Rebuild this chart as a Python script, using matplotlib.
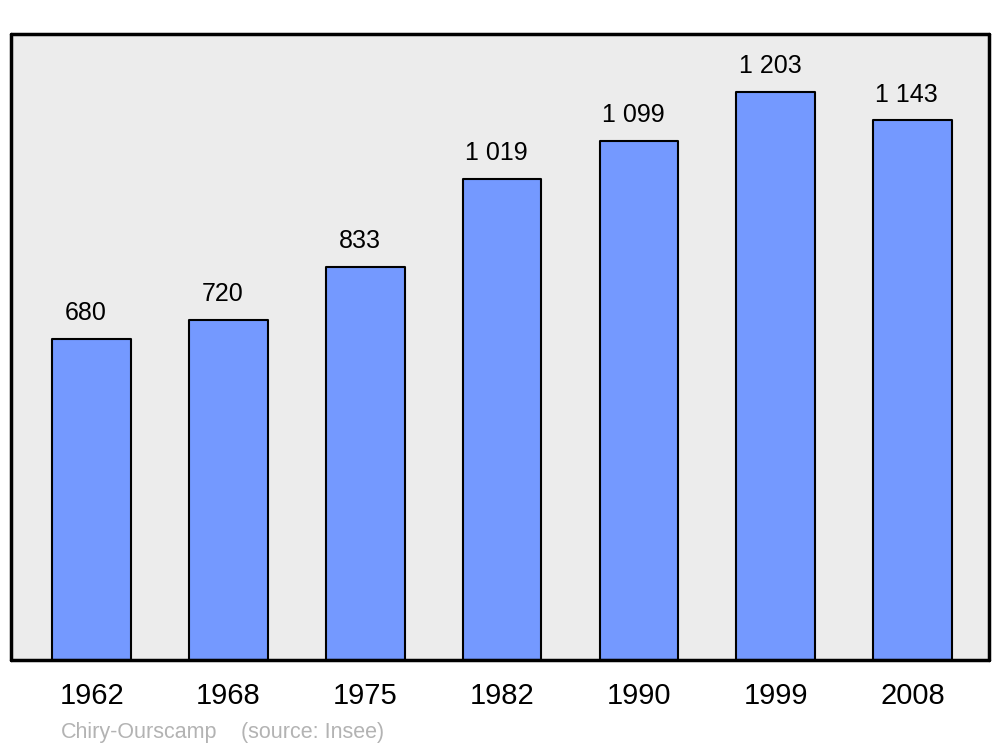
import matplotlib.pyplot as plt
import numpy as np

years = ["1962", "1968", "1975", "1982", "1990", "1999", "2008"]
population = [680, 720, 833, 1019, 1099, 1203, 1143]
labels = ["680", "720", "833", "1 019", "1 099", "1 203", "1 143"]

plt.rcParams['font.family'] = ['Liberation Sans', 'DejaVu Sans']

fig = plt.figure(figsize=(10, 7.47), dpi=100)
ax = fig.add_axes([0.011, 87/747, 0.978, 626/747])
ax.set_facecolor('#ececec')

x = np.arange(len(years))
ax.bar(x, population, width=0.575, color='#7499ff', edgecolor='black',
       linewidth=1.5, joinstyle='round', zorder=2)

for xi, v, lab in zip(x, population, labels):
    ax.annotate(lab, (xi, v), xytext=(-4, 18.5), textcoords='offset points',
                ha='center', va='center', fontsize=18)

ax.set_xlim(-0.59, 6.56)
ax.set_ylim(0, 1326)
ax.set_xticks(x)
ax.set_xticklabels(years, fontsize=21)
ax.tick_params(axis='x', length=0, pad=16)
ax.set_yticks([])
for s in ax.spines.values():
    s.set_linewidth(2.5)
    s.set_capstyle('round')
    s.set_joinstyle('round')

fig.text(0.061, 0.012, "Chiry-Ourscamp", color='#b3b3b3', fontsize=15.5)
fig.text(0.241, 0.012, "(source: Insee)", color='#b3b3b3', fontsize=15.5)

fig.savefig('out.png', dpi=100)
